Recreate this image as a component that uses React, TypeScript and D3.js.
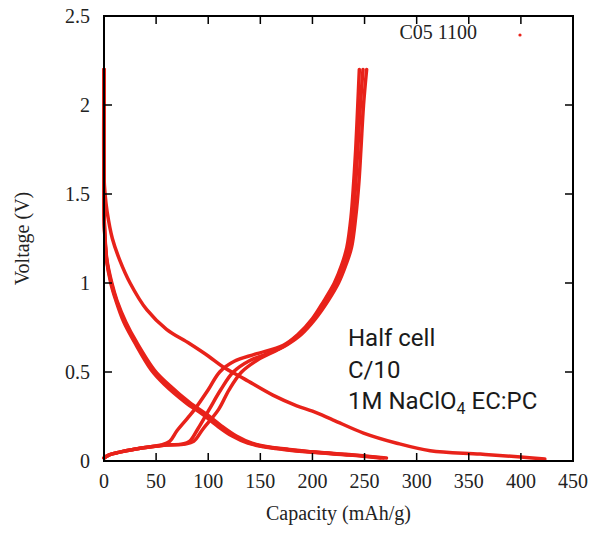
import React from "react";
import * as d3 from "d3";

const W = 602;
const H = 533;

const xTicks = [0, 50, 100, 150, 200, 250, 300, 350, 400, 450];
const yTicks = [0, 0.5, 1, 1.5, 2, 2.5];
const yTickLabels = ["0", "0.5", "1", "1.5", "2", "2.5"];

// First (long) discharge
const dis1Cap = [0, 0, 1, 3, 8, 15, 25, 41, 60, 82, 100, 114, 135, 162, 185, 200, 220, 249, 281, 313, 361, 400, 423];
const dis1V = [2.2, 1.6, 1.5, 1.4, 1.25, 1.13, 1.0, 0.85, 0.74, 0.66, 0.59, 0.53, 0.46, 0.37, 0.31, 0.28, 0.23, 0.157, 0.1, 0.058, 0.039, 0.022, 0.011];

// Subsequent discharges
const dis2Cap = [0, 0, 0.5, 2.6, 7, 12, 20, 30, 47, 60, 80, 97, 110, 125, 140, 155, 175, 200, 240, 268];
const dis2V = [2.2, 1.45, 1.3, 1.13, 1.0, 0.9, 0.78, 0.67, 0.51, 0.43, 0.33, 0.26, 0.2, 0.14, 0.1, 0.08, 0.065, 0.05, 0.033, 0.017];
const dis3Cap = [0, 0, 0.6, 2.8, 7.5, 12.5, 21, 31, 48.5, 62, 82, 99, 112, 127, 142, 157, 178, 203, 243, 271];
const dis3V = [2.2, 1.45, 1.3, 1.13, 1.0, 0.9, 0.78, 0.67, 0.51, 0.43, 0.33, 0.26, 0.2, 0.14, 0.1, 0.08, 0.065, 0.05, 0.033, 0.017];
const dis4Cap = [0, 0, 0.5, 2.4, 6.5, 11.5, 19, 29, 45.5, 58, 78, 95, 108, 123, 138, 153, 172, 197, 236, 265];
const dis4V = [2.2, 1.45, 1.3, 1.13, 1.0, 0.9, 0.78, 0.67, 0.51, 0.43, 0.33, 0.26, 0.2, 0.14, 0.1, 0.08, 0.065, 0.05, 0.033, 0.017];

// Charges
const chg1Cap = [0, 5, 15, 28, 45, 55, 63, 70, 80, 87, 100, 111, 125, 145, 172, 186, 200, 211, 221, 228, 233, 237, 239.5, 241.5, 243.5, 245];
const chg1V = [0.017, 0.035, 0.05, 0.065, 0.08, 0.09, 0.11, 0.17, 0.24, 0.29, 0.4, 0.5, 0.56, 0.6, 0.65, 0.71, 0.8, 0.9, 1.0, 1.1, 1.2, 1.37, 1.56, 1.75, 2.0, 2.2];
const chg2Cap = [0, 5, 15, 28, 45, 60, 75, 82, 90, 101, 112, 124, 140, 160, 174, 187, 201, 213, 223, 230, 235, 239, 241.5, 243.5, 246, 248.5];
const chg2V = [0.017, 0.035, 0.05, 0.065, 0.08, 0.09, 0.095, 0.11, 0.18, 0.29, 0.4, 0.5, 0.565, 0.61, 0.65, 0.71, 0.8, 0.9, 1.0, 1.1, 1.2, 1.37, 1.56, 1.75, 2.0, 2.2];
const chg3Cap = [0, 5, 15, 28, 45, 60, 78, 86, 95, 110, 120, 132, 148, 165, 176, 189, 203, 215, 225, 232, 237.5, 241.5, 244.5, 246.5, 249, 252];
const chg3V = [0.017, 0.035, 0.05, 0.065, 0.08, 0.09, 0.095, 0.11, 0.18, 0.29, 0.4, 0.5, 0.57, 0.62, 0.655, 0.71, 0.8, 0.9, 1.0, 1.1, 1.2, 1.37, 1.56, 1.75, 2.0, 2.2];

const seriesCaps = [dis1Cap, dis2Cap, dis3Cap, dis4Cap, chg1Cap, chg2Cap, chg3Cap];
const seriesVolts = [dis1V, dis2V, dis3V, dis4V, chg1V, chg2V, chg3V];

const legendLabel = "C05 1100";
const annotation = ["Half cell", "C/10"];

const RED = "#e8221a";

export default function App() {
  const left = 104, right = 573, top = 16, bottom = 461;
  const x = d3.scaleLinear().domain([0, 450]).range([left, right]);
  const y = d3.scaleLinear().domain([0, 2.5]).range([bottom, top]);
  const line = d3
    .line<[number, number]>()
    .x((d) => x(d[0]))
    .y((d) => y(d[1]))
    .curve(d3.curveCatmullRom.alpha(0.5));

  const serif = "'Liberation Serif', 'Times New Roman', serif";
  const sans = "Roboto, 'Noto Sans', sans-serif";
  const tl = 8;

  return (
    <svg
      width={W}
      height={H}
      style={{ position: "absolute", left: 0, top: 0, display: "block", background: "#fff" }}
    >
      <rect x={0} y={0} width={W} height={H} fill="#fff" />
      {/* curves */}
      <g fill="none" stroke={RED} strokeWidth={3.5} strokeLinejoin="round" strokeLinecap="round">
        {seriesCaps.map((caps, i) => {
          const pts = caps.map((c, j) => [c, seriesVolts[i][j]] as [number, number]);
          return <path key={i} d={line(pts) || ""} />;
        })}
      </g>
      {/* ticks */}
      <g stroke="#000" strokeWidth={1.5}>
        {xTicks.map((t) => (
          <g key={"xt" + t}>
            <line x1={x(t)} x2={x(t)} y1={bottom} y2={bottom - tl} />
            <line x1={x(t)} x2={x(t)} y1={top} y2={top + tl} />
          </g>
        ))}
        {yTicks.map((t) => (
          <g key={"yt" + t}>
            <line x1={left} x2={left + tl} y1={y(t)} y2={y(t)} />
            <line x1={right} x2={right - tl} y1={y(t)} y2={y(t)} />
          </g>
        ))}
      </g>
      <rect x={left} y={top} width={right - left} height={bottom - top} fill="none" stroke="#000" strokeWidth={2} />
      {/* tick labels */}
      <g fontFamily={serif} fontSize={20} fill="#222">
        {xTicks.map((t) => (
          <text key={"xl" + t} x={x(t)} y={bottom + 27} textAnchor="middle">
            {t}
          </text>
        ))}
        {yTicks.map((t, i) => (
          <text key={"yl" + t} x={left - 14} y={y(t) + 7} textAnchor="end">
            {yTickLabels[i]}
          </text>
        ))}
        <text x={(left + right) / 2} y={520} textAnchor="middle">
          Capacity (mAh/g)
        </text>
        <text transform={`translate(29,${(top + bottom) / 2}) rotate(-90)`} textAnchor="middle">
          Voltage (V)
        </text>
        <text x={477} y={39} textAnchor="end">
          {legendLabel}
        </text>
      </g>
      <circle cx={520} cy={35} r={1.6} fill={RED} />
      {/* annotation */}
      <g fontFamily={sans} fontSize={24} fill="#1a1a1a">
        <text x={348} y={346}>{annotation[0]}</text>
        <text x={348} y={378}>{annotation[1]}</text>
        <text x={348} y={409}>
          1M NaClO
          <tspan fontSize={16} dy={5}>4</tspan>
          <tspan dy={-5}> EC:PC</tspan>
        </text>
      </g>
    </svg>
  );
}
